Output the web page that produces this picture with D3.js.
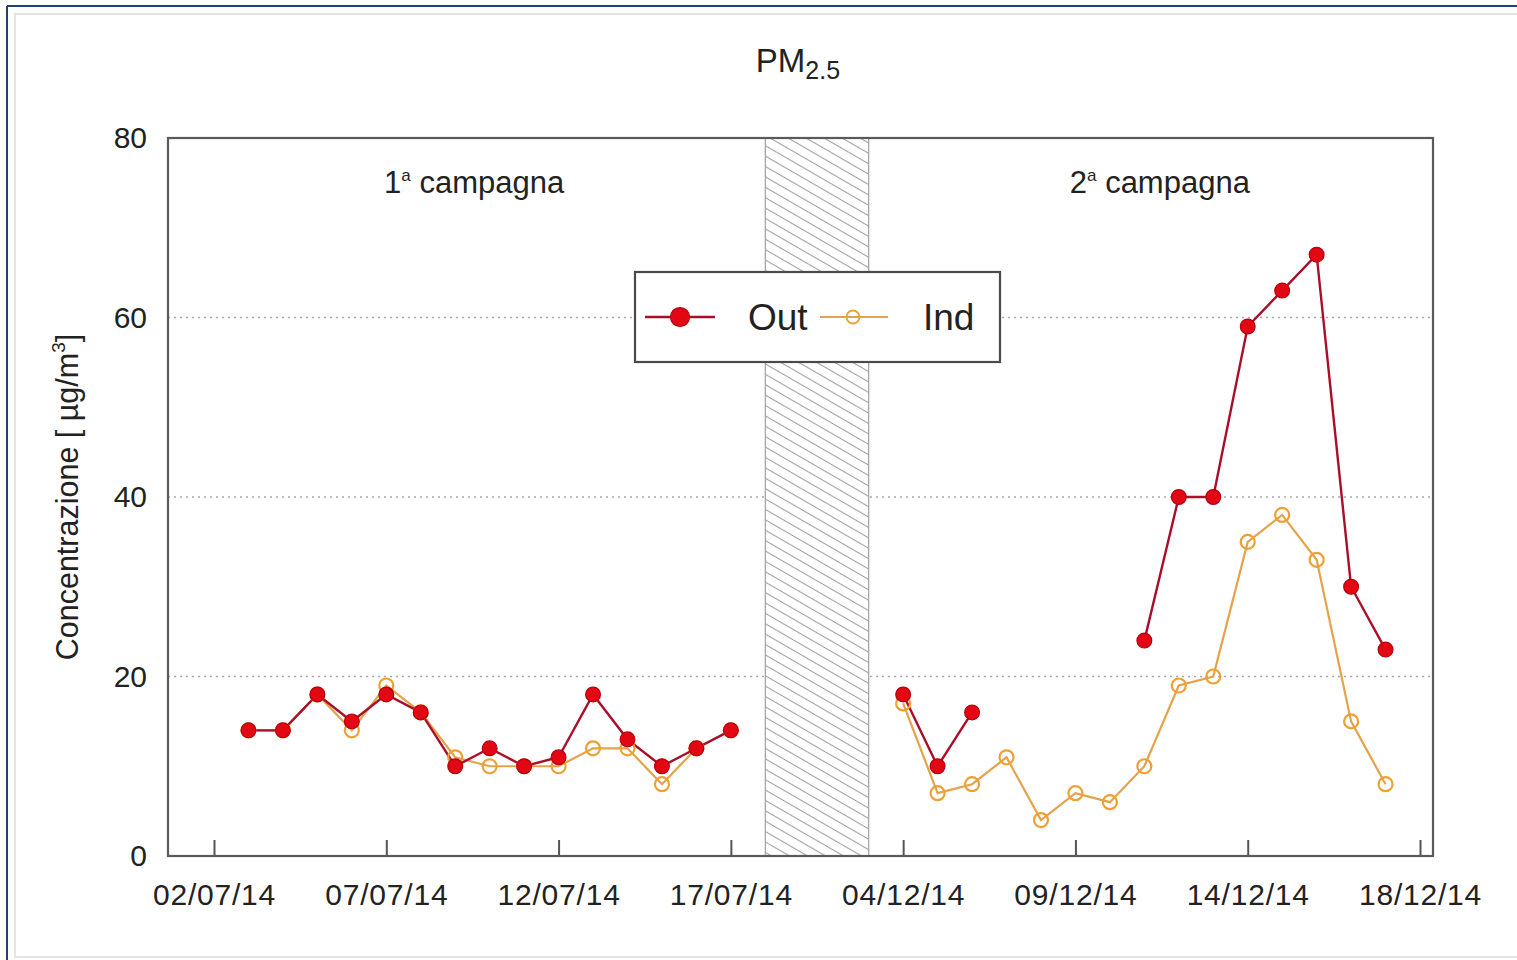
<!DOCTYPE html>
<html>
<head>
<meta charset="utf-8">
<script src="https://cdn.jsdelivr.net/npm/d3@7"></script>
<style>
  html, body { margin: 0; padding: 0; background: #fff; }
  svg { display: block; font-family: "Liberation Sans", Arial, sans-serif; }
</style>
</head>
<body>
<svg id="chart" width="1517" height="960"></svg>
<script>
// ---- data: PM2.5 daily concentrations (µg/m³) ----
// slot = position along the x axis (one slot per sampling day)
const slotsCampaign1 = [1, 2, 3, 4, 5, 6, 7, 8, 9, 10, 11, 12, 13, 14, 15];
const outCampaign1   = [14, 14, 18, 15, 18, 16, 10, 12, 10, 11, 18, 13, 10, 12, 14];
const indCampaign1   = [14, 14, 18, 14, 19, 16, 11, 10, 10, 10, 12, 12, 8, 12, 14];

const slotsCampaign2 = [20, 21, 22, 23, 24, 25, 26, 27, 28, 29, 30, 31, 32, 33, 34];
const outCampaign2   = [18, 10, 16, null, null, null, null, 24, 40, 40, 59, 63, 67, 30, 23];
const indCampaign2   = [17, 7, 8, 11, 4, 7, 6, 10, 19, 20, 35, 38, 33, 15, 8];

const tickSlots  = [0, 5, 10, 15, 20, 25, 30, 35];
const tickLabels = ["02/07/14", "07/07/14", "12/07/14", "17/07/14",
                    "04/12/14", "09/12/14", "14/12/14", "18/12/14"];
const yTicks     = [0, 20, 40, 60, 80];
const gridValues = [20, 40, 60];
const breakSlots = [16, 19];            // interval between the two campaigns
const campaignNames  = ["1", "2"];
const campaignCenter = [7.55, 27.45];

const seriesNames = ["Out", "Ind"];

// ---- layout ----
const W = 1517, H = 960;
const plot = { left: 168, right: 1433, top: 138, bottom: 856 };
const FONT = "'Liberation Sans', Arial, sans-serif";

const svg = d3.select("#chart");

const x = d3.scaleLinear().domain([-1.335, 35.377]).range([plot.left, plot.right]);
const y = d3.scaleLinear().domain([0, 80]).range([plot.bottom, plot.top]);

// page frame
svg.append("rect").attr("x", 15).attr("y", 14).attr("width", W).attr("height", 943)
  .attr("fill", "#fff").attr("stroke", "#e4e4e4").attr("stroke-width", 2);
svg.append("line").attr("x1", 7).attr("x2", W).attr("y1", 6).attr("y2", 6)
  .attr("stroke", "#24406f").attr("stroke-width", 2);
svg.append("line").attr("x1", 7).attr("x2", 7).attr("y1", 6).attr("y2", H)
  .attr("stroke", "#24406f").attr("stroke-width", 2);

// hatch pattern
const defs = svg.append("defs");
const pat = defs.append("pattern").attr("id", "hatch")
  .attr("patternUnits", "userSpaceOnUse").attr("width", 20).attr("height", 9)
  .attr("patternTransform", "rotate(30)");
pat.append("rect").attr("width", 20).attr("height", 9).attr("fill", "#fff");
pat.append("line").attr("x1", 0).attr("x2", 20).attr("y1", 4.5).attr("y2", 4.5)
  .attr("stroke", "#a2a2a2").attr("stroke-width", 1.1);

// gridlines
svg.append("g").selectAll("line").data(gridValues).join("line")
  .attr("x1", plot.left).attr("x2", plot.right)
  .attr("y1", d => y(d)).attr("y2", d => y(d))
  .attr("stroke", "#a8a8a8").attr("stroke-width", 1.6)
  .attr("stroke-dasharray", "2,4");

// break between campaigns
svg.append("rect")
  .attr("x", x(breakSlots[0])).attr("width", x(breakSlots[1]) - x(breakSlots[0]))
  .attr("y", plot.top).attr("height", plot.bottom - plot.top)
  .attr("fill", "url(#hatch)").attr("stroke", "#a0a0a0").attr("stroke-width", 1.2);

// y axis labels
const yAxis = d3.axisLeft(y).tickValues(yTicks).tickSize(0).tickPadding(21);
const gy = svg.append("g").attr("transform", `translate(${plot.left},0)`).call(yAxis);
gy.select(".domain").remove();
gy.selectAll("text").attr("font-size", 30).attr("fill", "#222").attr("font-family", FONT);

// x axis with inward ticks
const xAxis = d3.axisBottom(x).tickValues(tickSlots)
  .tickFormat((d, i) => tickLabels[i]).tickSizeInner(-16).tickSizeOuter(0).tickPadding(28);
const gx = svg.append("g").attr("transform", `translate(0,${plot.bottom})`).call(xAxis);
gx.select(".domain").remove();
gx.selectAll(".tick line").attr("stroke", "#555").attr("stroke-width", 2);
gx.selectAll("text").attr("font-size", 30).attr("letter-spacing", 0.8)
  .attr("fill", "#222").attr("font-family", FONT);

// plot frame
svg.append("rect").attr("x", plot.left).attr("y", plot.top)
  .attr("width", plot.right - plot.left).attr("height", plot.bottom - plot.top)
  .attr("fill", "none").attr("stroke", "#5a5a5a").attr("stroke-width", 2.2);

// series
const outColor = { line: "#a8102a", fill: "#e30613", stroke: "#b4000f" };
const indColor = { line: "#e6a24a", stroke: "#efa032" };

const line = d3.line().defined(d => d.v != null).x(d => x(d.s)).y(d => y(d.v));

function pts(slots, vals) { return slots.map((s, i) => ({ s, v: vals[i] })); }

const campaigns = [
  { out: pts(slotsCampaign1, outCampaign1), ind: pts(slotsCampaign1, indCampaign1) },
  { out: pts(slotsCampaign2, outCampaign2), ind: pts(slotsCampaign2, indCampaign2) }
];

const gSeries = svg.append("g");
campaigns.forEach(c => {
  gSeries.append("path").datum(c.ind).attr("d", line)
    .attr("fill", "none").attr("stroke", indColor.line).attr("stroke-width", 2.2);
});
campaigns.forEach(c => {
  gSeries.append("path").datum(c.out).attr("d", line)
    .attr("fill", "none").attr("stroke", outColor.line).attr("stroke-width", 2.4);
});
campaigns.forEach(c => {
  gSeries.append("g").selectAll("circle").data(c.ind.filter(d => d.v != null)).join("circle")
    .attr("cx", d => x(d.s)).attr("cy", d => y(d.v)).attr("r", 7)
    .attr("fill", "none").attr("stroke", indColor.stroke).attr("stroke-width", 2.2);
});
campaigns.forEach(c => {
  gSeries.append("g").selectAll("circle").data(c.out.filter(d => d.v != null)).join("circle")
    .attr("cx", d => x(d.s)).attr("cy", d => y(d.v)).attr("r", 7.4)
    .attr("fill", outColor.fill).attr("stroke", outColor.stroke).attr("stroke-width", 1.2);
});

// campaign labels
campaignNames.forEach((n, i) => {
  const t = svg.append("text").attr("x", x(campaignCenter[i])).attr("y", 193)
    .attr("text-anchor", "middle").attr("font-size", 31).attr("fill", "#222");
  t.append("tspan").text(n);
  t.append("tspan").text("a").attr("font-size", 17).attr("dy", -12);
  t.append("tspan").text(" campagna").attr("dy", 12);
});

// title
const title = svg.append("text").attr("x", 798).attr("y", 72)
  .attr("text-anchor", "middle").attr("font-size", 33).attr("fill", "#222");
title.append("tspan").text("PM");
title.append("tspan").text("2.5").attr("font-size", 25).attr("dy", 7);

// y axis title
const yt = svg.append("text").attr("transform", "translate(78,497) rotate(-90)")
  .attr("text-anchor", "middle").attr("font-size", 30.5).attr("fill", "#222");
yt.append("tspan").text("Concentrazione [ µg/m");
yt.append("tspan").text("3").attr("font-size", 19).attr("dy", -13);
yt.append("tspan").text("]").attr("dy", 13);

// legend
const lg = svg.append("g");
lg.append("rect").attr("x", 635).attr("y", 272).attr("width", 365).attr("height", 90)
  .attr("fill", "#fff").attr("stroke", "#4a4a4a").attr("stroke-width", 2.2);
const ly = 317;
lg.append("line").attr("x1", 645).attr("x2", 715).attr("y1", ly).attr("y2", ly)
  .attr("stroke", outColor.line).attr("stroke-width", 2.6);
lg.append("circle").attr("cx", 680).attr("cy", ly).attr("r", 9.5)
  .attr("fill", outColor.fill).attr("stroke", outColor.stroke).attr("stroke-width", 1.2);
lg.append("text").attr("x", 748).attr("y", ly + 13).attr("font-size", 37)
  .attr("fill", "#222").text(seriesNames[0]);
lg.append("line").attr("x1", 820).attr("x2", 888).attr("y1", ly).attr("y2", ly)
  .attr("stroke", indColor.line).attr("stroke-width", 2);
lg.append("circle").attr("cx", 853).attr("cy", ly).attr("r", 6.5)
  .attr("fill", "none").attr("stroke", indColor.stroke).attr("stroke-width", 1.8);
lg.append("text").attr("x", 923).attr("y", ly + 13).attr("font-size", 37)
  .attr("fill", "#222").text(seriesNames[1]);
</script>
</body>
</html>
